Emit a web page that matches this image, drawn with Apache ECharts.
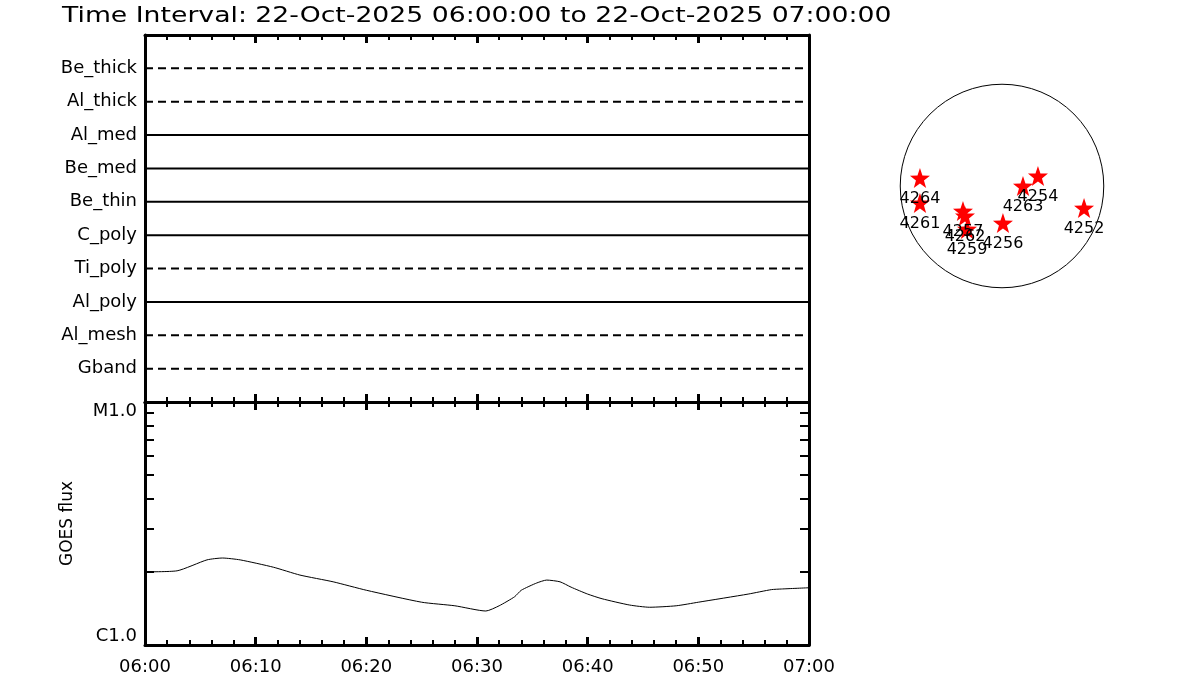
<!DOCTYPE html>
<html><head><meta charset="utf-8">
<script src="https://cdn.jsdelivr.net/npm/echarts@6/dist/echarts.min.js"></script>
<style>html,body{margin:0;padding:0;background:#fff}#c{width:1200px;height:700px}</style>
</head><body><div id="c"></div>
<script>
// ---- data ----
const titleText = 'Time Interval: 22-Oct-2025 06:00:00 to 22-Oct-2025 07:00:00';
const timeTickLabels = ['06:00', '06:10', '06:20', '06:30', '06:40', '06:50', '07:00'];
const channels = ['Be_thick', 'Al_thick', 'Al_med', 'Be_med', 'Be_thin', 'C_poly', 'Ti_poly', 'Al_poly', 'Al_mesh', 'Gband'];
const channelInactive = [true, true, false, false, false, false, true, false, true, true];
// minutes after 06:00
const goesMinutes = [0, 2.9, 5.6, 7.0, 8.6, 11.6, 14.0, 17.0, 20.0, 25.0, 28.0, 30.8, 32.0, 33.4, 34.0, 35.4, 36.3, 37.5, 38.5, 40.0, 41.3, 43.8, 45.6, 48.0, 50.0, 54.5, 56.6, 57.5, 60.0];
const goesFlux = [2.00e-6, 2.02e-6, 2.24e-6, 2.28e-6, 2.24e-6, 2.09e-6, 1.94e-6, 1.82e-6, 1.68e-6, 1.50e-6, 1.45e-6, 1.38e-6, 1.45e-6, 1.58e-6, 1.68e-6, 1.80e-6, 1.85e-6, 1.82e-6, 1.73e-6, 1.62e-6, 1.55e-6, 1.46e-6, 1.43e-6, 1.45e-6, 1.50e-6, 1.62e-6, 1.69e-6, 1.70e-6, 1.72e-6];
const fluxTicks = [1e-6, 2e-6, 3e-6, 4e-6, 5e-6, 6e-6, 7e-6, 8e-6, 9e-6, 1e-5];
const fluxLabelValues = [1e-6, 1e-5];
const fluxLabels = ['C1.0', 'M1.0'];
const regionNames = ['4264', '4261', '4257', '4262', '4259', '4256', '4263', '4254', '4252'];
const regionX = [-778, -778, -370, -351, -332, 9, 199, 341, 778];   // arcsec
const regionY = [76, -161, -237, -284, -408, -351, 0, 95, -209];    // arcsec
const solarRadius = 965; // arcsec

// ---- chart ----
const FONT = 'DejaVu Sans';
const BLACK = '#000';
const STAR = 'path://M0,-10L2.35,-3.24L9.51,-3.09L3.8,1.24L5.88,8.09L0,4L-5.88,8.09L-3.8,1.24L-9.51,-3.09L-2.35,-3.24Z';

function timeAxis(grid, position, showLabel) {
  return {
    type: 'value', gridIndex: grid, position: position, min: 0, max: 60, interval: 10,
    axisLine: { show: true, onZero: false, lineStyle: { color: BLACK, width: 3 } },
    axisTick: { show: true, inside: true, length: 8, lineStyle: { color: BLACK, width: 3 } },
    minorTick: { show: true, splitNumber: 5, length: 5, lineStyle: { color: BLACK, width: 2 } },
    splitLine: { show: false }, minorSplitLine: { show: false },
    axisLabel: {
      show: showLabel, margin: 13, color: BLACK, fontFamily: FONT, fontSize: 18,
      formatter: v => timeTickLabels[Math.round(v / 10)]
    }
  };
}
function fluxAxis(position, showLabel) {
  return {
    type: 'log', logBase: 10, gridIndex: 1, position: position, min: 1e-6, max: 1e-5,
    axisLine: { show: true, onZero: false, lineStyle: { color: BLACK, width: 3 } },
    axisTick: { show: true, inside: true, length: 9, customValues: fluxTicks, lineStyle: { color: BLACK, width: 2 } },
    splitLine: { show: false },
    axisLabel: {
      show: showLabel, margin: 8, color: BLACK, fontFamily: FONT, fontSize: 18,
      customValues: fluxLabelValues,
      verticalAlignMinLabel: 'bottom', verticalAlignMaxLabel: 'top',
      formatter: v => {
        const i = fluxLabelValues.findIndex(f => Math.abs(Math.log10(f) - Math.log10(v)) < 1e-6);
        return i >= 0 ? fluxLabels[i] : '';
      }
    },
    name: showLabel ? 'GOES flux' : '', nameLocation: 'middle', nameRotate: 90, nameGap: 69,
    nameTextStyle: { color: BLACK, fontFamily: FONT, fontSize: 17 }
  };
}

const series = [];
channels.forEach((ch, i) => {
  series.push({
    type: 'line', name: ch, xAxisIndex: 0, yAxisIndex: 0, symbol: 'none', silent: true,
    data: [[0, channels.length - i], [60, channels.length - i]],
    lineStyle: { color: BLACK, width: 2, type: channelInactive[i] ? [8, 5] : 'solid' }
  });
});
series.push({
  type: 'line', name: 'GOES', xAxisIndex: 3, yAxisIndex: 2, symbol: 'none', smooth: 0.2, silent: true,
  data: goesMinutes.map((m, i) => [m, goesFlux[i]]),
  lineStyle: { color: BLACK, width: 1 }
});
series.push({
  type: 'custom', name: 'disk', xAxisIndex: 4, yAxisIndex: 4, silent: true,
  encode: { x: 0, y: 1 },
  data: [[0, 0, solarRadius]],
  renderItem: (params, api) => {
    const c = api.coord([api.value(0), api.value(1)]);
    const r = api.size([api.value(2), 0])[0];
    return { type: 'circle', shape: { cx: c[0], cy: c[1], r: r }, style: { fill: 'none', stroke: BLACK, lineWidth: 1 } };
  }
});
series.push({
  type: 'scatter', name: 'regions', xAxisIndex: 4, yAxisIndex: 4, symbol: STAR, symbolSize: 20, silent: true,
  itemStyle: { color: '#ff0000', opacity: 1 },
  data: regionNames.map((n, i) => ({ name: n, value: [regionX[i], regionY[i]] })),
  label: { show: true, formatter: '{b}', position: 'bottom', distance: 3, color: BLACK, opacity: 1, fontFamily: FONT, fontSize: 16 }
});

const option = {
  animation: false,
  backgroundColor: '#fff',
  graphic: [{
    type: 'text', x: 62, y: 6, scaleX: 1.27,
    style: { text: titleText, fill: BLACK, font: '21px "DejaVu Sans"', verticalAlign: 'top', align: 'left' }
  }],
  grid: [
    { left: 145, top: 35, width: 664, height: 367 },
    { left: 145, top: 402, width: 664, height: 243 },
    { left: 886, top: 70, width: 232, height: 232 }
  ],
  xAxis: [
    timeAxis(0, 'bottom', false),
    timeAxis(0, 'top', false),
    timeAxis(1, 'top', false),
    timeAxis(1, 'bottom', true),
    { type: 'value', gridIndex: 2, min: -1100, max: 1100, show: false }
  ],
  yAxis: [
    {
      type: 'value', gridIndex: 0, position: 'left', min: 0, max: 11, interval: 1,
      axisLine: { show: true, onZero: false, lineStyle: { color: BLACK, width: 3 } },
      axisTick: { show: false }, splitLine: { show: false },
      axisLabel: {
        margin: 8, color: BLACK, fontFamily: FONT, fontSize: 18,
        formatter: v => (v >= 1 && v <= channels.length) ? channels[channels.length - v] : ''
      }
    },
    {
      type: 'value', gridIndex: 0, position: 'right', min: 0, max: 11, interval: 1,
      axisLine: { show: true, onZero: false, lineStyle: { color: BLACK, width: 3 } },
      axisTick: { show: false }, splitLine: { show: false }, axisLabel: { show: false }
    },
    fluxAxis('left', true),
    fluxAxis('right', false),
    { type: 'value', gridIndex: 2, min: -1100, max: 1100, show: false }
  ],
  series: series
};

const chart = echarts.init(document.getElementById('c'), null, { renderer: 'canvas' });
chart.setOption(option);
</script>
</body></html>
